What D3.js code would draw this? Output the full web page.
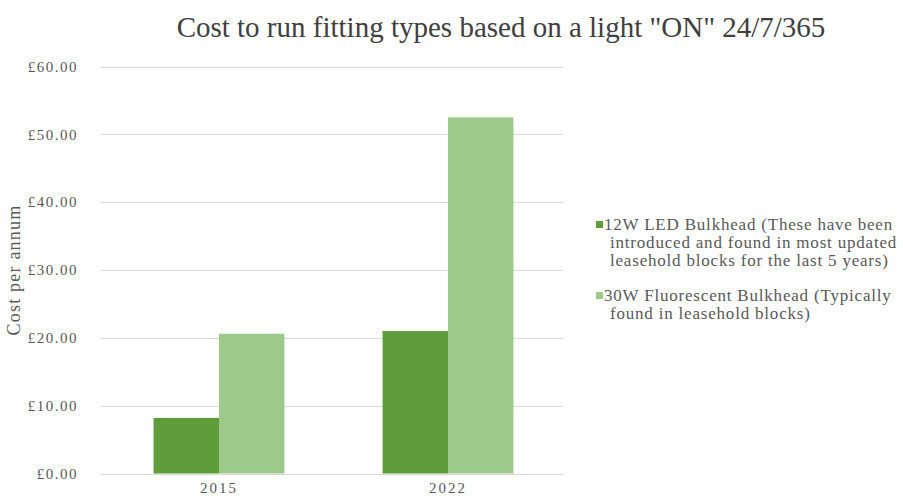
<!DOCTYPE html>
<html>
<head>
<meta charset="utf-8">
<script src="https://cdn.jsdelivr.net/npm/d3@7"></script>
<style>
  body { margin: 0; background: #fff; }
  text { font-family: "Liberation Serif", "DejaVu Serif", serif; }
</style>
</head>
<body>
<svg id="chart" width="903" height="504"></svg>
<script>
// data
var years = ["2015", "2022"];
var seriesNames = ["led", "fluoro"];
var ledCost = [8.2, 21.0];
var fluoroCost = [20.6, 52.5];
var yTicks = [0, 10, 20, 30, 40, 50, 60];
var legendLines = [
  ["12W LED Bulkhead (These have been", "introduced and found in most updated", "leasehold blocks for the last 5 years)"],
  ["30W Fluorescent Bulkhead (Typically", "found in leasehold blocks)"]
];

var colors = { led: "#5f9d3a", fluoro: "#9dc98b" };

var svg = d3.select("#chart");

// plot area
var plotLeft = 100, plotRight = 563, plotTop = 66.5, plotBottom = 473.5;

var x = d3.scaleBand().domain(years).range([104.5, 562.5]).paddingInner(0).paddingOuter(0);
var xSub = d3.scaleBand().domain(seriesNames).range([0, x.bandwidth()]).paddingInner(0).paddingOuter(0.75);
var y = d3.scaleLinear().domain([0, 60]).range([plotBottom, plotTop]);

// title
svg.append("text")
  .attr("x", 501).attr("y", 37)
  .attr("text-anchor", "middle")
  .attr("font-size", 29)
  .attr("fill", "#404040")
  .text('Cost to run fitting types based on a light "ON" 24/7/365');

// gridlines
svg.append("g").selectAll("line")
  .data(yTicks)
  .join("line")
  .attr("x1", plotLeft).attr("x2", plotRight)
  .attr("y1", d => Math.round(y(d)) + 0.5).attr("y2", d => Math.round(y(d)) + 0.5)
  .attr("stroke", "#dadada")
  .attr("stroke-width", 1);

// y axis labels
var yAxis = svg.append("g")
  .attr("transform", `translate(${plotLeft - 19},0)`)
  .call(d3.axisLeft(y).tickValues(yTicks).tickSize(0).tickFormat(d => "£" + d.toFixed(2)));
yAxis.select(".domain").remove();
yAxis.selectAll("text")
  .attr("font-family", "Liberation Serif, serif")
  .attr("font-size", 15)
  .attr("letter-spacing", 1.5)
  .attr("fill", "#595959");

// y title
svg.append("text")
  .attr("transform", "translate(20,270) rotate(-90)")
  .attr("text-anchor", "middle")
  .attr("font-size", 18)
  .attr("letter-spacing", 1.2)
  .attr("fill", "#595959")
  .text("Cost per annum");

// bars
var rows = years.map((yr, i) => ({ year: yr, led: ledCost[i], fluoro: fluoroCost[i] }));
var groups = svg.append("g").selectAll("g")
  .data(rows)
  .join("g")
  .attr("transform", d => `translate(${x(d.year)},0)`);

groups.selectAll("rect")
  .data(d => seriesNames.map(k => ({ key: k, value: d[k] })))
  .join("rect")
  .attr("x", d => xSub(d.key))
  .attr("width", xSub.bandwidth())
  .attr("y", d => y(d.value))
  .attr("height", d => y(0) - y(d.value))
  .attr("fill", d => colors[d.key]);

// x axis labels
var xAxis = svg.append("g")
  .attr("transform", `translate(0,${plotBottom + 6})`)
  .call(d3.axisBottom(x).tickSize(0));
xAxis.select(".domain").remove();
xAxis.selectAll("text")
  .attr("font-family", "Liberation Serif, serif")
  .attr("font-size", 15)
  .attr("letter-spacing", 2)
  .attr("fill", "#595959");

// legend
var legend = svg.append("g").attr("transform", "translate(596,0)");
var legendY = [230, 301];
legendLines.forEach(function (lines, i) {
  var g = legend.append("g").attr("transform", `translate(0,${legendY[i]})`);
  g.append("rect")
    .attr("x", 0).attr("y", -9)
    .attr("width", 7).attr("height", 7)
    .attr("fill", colors[seriesNames[i]]);
  g.append("text")
    .attr("font-size", 17)
    .attr("letter-spacing", 0.8)
    .attr("fill", "#595959")
    .selectAll("tspan")
    .data(lines)
    .join("tspan")
    .attr("x", (d, j) => j === 0 ? 8 : 14)
    .attr("dy", (d, j) => j === 0 ? 0 : 18)
    .text(d => d);
});
</script>
</body>
</html>
